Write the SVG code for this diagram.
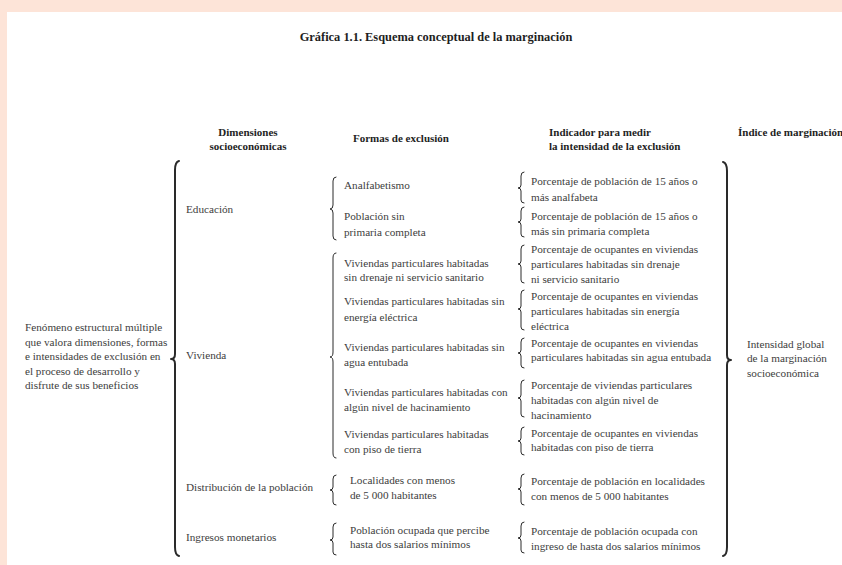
<svg xmlns="http://www.w3.org/2000/svg" width="842" height="565" viewBox="0 0 842 565" font-family="'Liberation Serif', 'Times New Roman', serif">
<style>
text{font-family:"Liberation Serif","Times New Roman",serif;font-size:11.2px;fill:#3d3d3d}
.h{font-weight:bold;font-size:11px;fill:#1e1e1e}
.t{font-weight:bold;font-size:12.4px;fill:#1e1e1e}
.c{text-anchor:middle}
.br{fill:none;stroke:#2a2a2a;stroke-width:1;stroke-linecap:round;stroke-linejoin:round}
.big{stroke-width:2}
</style>
<rect x="0" y="0" width="842" height="565" fill="#fde4d8"/>
<rect x="7" y="12" width="835" height="553" fill="#ffffff"/>
<text class="t c" x="436" y="41">Gráfica 1.1. Esquema conceptual de la marginación</text>
<g id="headers">
<text class="h c" x="248" y="136">Dimensiones</text>
<text class="h c" x="248" y="150">socioeconómicas</text>
<text class="h c" x="401" y="142">Formas de exclusión</text>
<text class="h" x="549" y="136">Indicador para medir</text>
<text class="h" x="549" y="150">la intensidad de la exclusión</text>
<text class="h" x="738" y="136">Índice de marginación</text>
</g>
<g id="concepto">
<text x="25" y="331">Fenómeno estructural múltiple</text>
<text x="25" y="345.5">que valora dimensiones, formas</text>
<text x="25" y="360">e intensidades de exclusión en</text>
<text x="25" y="374.5">el proceso de desarrollo y</text>
<text x="25" y="389">disfrute de sus beneficios</text>
</g>
<g id="dimensiones">
<text x="186" y="213">Educación</text>
<text x="186" y="359">Vivienda</text>
<text x="186" y="491">Distribución de la población</text>
<text x="186" y="541">Ingresos monetarios</text>
</g>
<g id="formas">
<text x="344" y="189">Analfabetismo</text>
<text x="344" y="220">Población sin</text>
<text x="344" y="236">primaria completa</text>
<text x="344" y="267">Viviendas particulares habitadas</text>
<text x="344" y="281">sin drenaje ni servicio sanitario</text>
<text x="344" y="305">Viviendas particulares habitadas sin</text>
<text x="344" y="321">energía eléctrica</text>
<text x="344" y="351">Viviendas particulares habitadas sin</text>
<text x="344" y="366">agua entubada</text>
<text x="344" y="396">Viviendas particulares habitadas con</text>
<text x="344" y="411">algún nivel de hacinamiento</text>
<text x="344" y="438">Viviendas particulares habitadas</text>
<text x="344" y="453">con piso de tierra</text>
<text x="350" y="484">Localidades con menos</text>
<text x="350" y="499">de 5 000 habitantes</text>
<text x="350" y="534">Población ocupada que percibe</text>
<text x="350" y="548">hasta dos salarios mínimos</text>
</g>
<g id="indicadores">
<text x="531" y="184.5">Porcentaje de población de 15 años o</text>
<text x="531" y="200.5">más analfabeta</text>
<text x="531" y="219.5">Porcentaje de población de 15 años o</text>
<text x="531" y="234.5">más sin primaria completa</text>
<text x="531" y="252.5">Porcentaje de ocupantes en viviendas</text>
<text x="531" y="267.5">particulares habitadas sin drenaje</text>
<text x="531" y="282.5">ni servicio sanitario</text>
<text x="531" y="299.5">Porcentaje de ocupantes en viviendas</text>
<text x="531" y="314.5">particulares habitadas sin energía</text>
<text x="531" y="329.5">eléctrica</text>
<text x="531" y="346.5">Porcentaje de ocupantes en viviendas</text>
<text x="531" y="360.5">particulares habitadas sin agua entubada</text>
<text x="531" y="388.5">Porcentaje de viviendas particulares</text>
<text x="531" y="403.5">habitadas con algún nivel de</text>
<text x="531" y="418.5">hacinamiento</text>
<text x="531" y="436.5">Porcentaje de ocupantes en viviendas</text>
<text x="531" y="450.5">habitadas con piso de tierra</text>
<text x="531" y="484.5">Porcentaje de población en localidades</text>
<text x="531" y="499.5">con menos de 5 000 habitantes</text>
<text x="531" y="534.5">Porcentaje de población ocupada con</text>
<text x="531" y="549.5">ingreso de hasta dos salarios mínimos</text>
</g>
<g id="indice">
<text x="747" y="347.5">Intensidad global</text>
<text x="747" y="361.5">de la marginación</text>
<text x="747" y="376.5">socioeconómica</text>
</g>
<g id="connectors">
<path class="br big" d="M179 161 Q175 162 175 170 L175 354 Q175 359 171 359 Q175 359 175 364 L175 547 Q175 555 179 556"/>
<path class="br big" d="M723 162 Q727 163 727 171 L727 355 Q727 360 731 360 Q727 360 727 365 L727 547 Q727 555 723 556"/>
<path class="br" d="M336 177 Q333 177 333 181 L333 205 Q333 209 330 209 Q333 209 333 213 L333 236 Q333 240 336 240"/>
<path class="br" d="M336 253 Q333 253 333 258 L333 352 Q333 357 330 357 Q333 357 333 362 L333 453 Q333 458 336 458"/>
<path class="br" d="M336 475 Q333 475 333 479 L333 487 Q333 490 330 490 Q333 490 333 493 L333 502 Q333 505 336 505"/>
<path class="br" d="M336 523 Q333 523 333 527 L333 537 Q333 540 330 540 Q333 540 333 543 L333 552 Q333 555 336 555"/>
<path class="br" d="M524 172 Q521 172 521 176 L521 185 Q521 188 518 188 Q521 188 521 191 L521 200 Q521 203 524 203"/>
<path class="br" d="M524 207 Q521 207 521 211 L521 219 Q521 222 518 222 Q521 222 521 225 L521 234 Q521 237 524 237"/>
<path class="br" d="M524 245 Q521 245 521 249 L521 261 Q521 264 518 264 Q521 264 521 267 L521 280 Q521 283 524 283"/>
<path class="br" d="M524 290 Q521 290 521 294 L521 306 Q521 309 518 309 Q521 309 521 312 L521 327 Q521 330 524 330"/>
<path class="br" d="M524 338 Q521 338 521 342 L521 350 Q521 353 518 353 Q521 353 521 356 L521 365 Q521 368 524 368"/>
<path class="br" d="M524 380 Q521 380 521 384 L521 395 Q521 398 518 398 Q521 398 521 401 L521 414 Q521 417 524 417"/>
<path class="br" d="M524 427 Q521 427 521 431 L521 438 Q521 441 518 441 Q521 441 521 444 L521 452 Q521 455 524 455"/>
<path class="br" d="M524 474 Q521 474 521 478 L521 486 Q521 489 518 489 Q521 489 521 492 L521 502 Q521 505 524 505"/>
<path class="br" d="M524 522 Q521 522 521 526 L521 535 Q521 538 518 538 Q521 538 521 541 L521 550 Q521 553 524 553"/>
</g>
</svg>
